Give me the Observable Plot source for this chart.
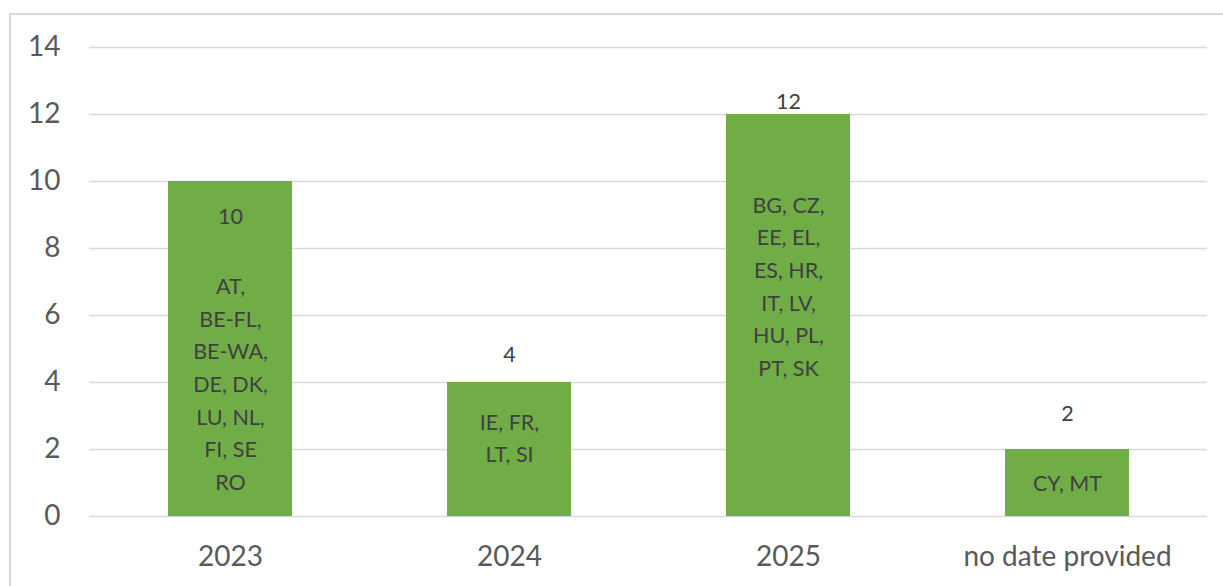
<!DOCTYPE html>
<html>
<head>
<meta charset="utf-8">
<script src="https://cdn.jsdelivr.net/npm/d3@7"></script>
<script src="https://cdn.jsdelivr.net/npm/@observablehq/plot@0.6"></script>
<style>
  html, body { margin: 0; padding: 0; background: #fff; overflow: hidden; }
  #wrap { position: relative; width: 1223px; height: 586px; }
  #frame { position: absolute; left: 9px; top: 13px; width: 1230px; height: 600px;
           border: 2px solid #d9d9d9; box-sizing: border-box; pointer-events: none; }
  svg { position: absolute; left: 0; top: 0; }
</style>
</head>
<body>
<div id="wrap"><div id="frame"></div></div>
<script>
const categories = ["2023", "2024", "2025", "no date provided"];
const values = [10, 4, 12, 2];
const countries = [
  "AT,\nBE-FL,\nBE-WA,\nDE, DK,\nLU, NL,\nFI, SE\nRO",
  "IE, FR,\nLT, SI",
  "BG, CZ,\nEE, EL,\nES, HR,\nIT, LV,\nHU, PL,\nPT, SK",
  "CY, MT"
];
const yTicks = [0, 2, 4, 6, 8, 10, 12, 14];

const rows = categories.map((c, i) => ({cat: c, value: values[i], countries: countries[i]}));

// label nudges (pixels), matching the manual placement in the original chart
const valueDy = [36, -27, -12, -35];
const countryDy = [32.5, -14, -31.5, -2.5];

const font = "Lato, 'Open Sans', sans-serif";

const marks = [
  Plot.gridY(yTicks, {stroke: "#d9d9d9", strokeOpacity: 1, strokeWidth: 1.6}),
  Plot.barY(rows, {x: "cat", y: "value", fill: "#70ad47"}),
  ...rows.map((r, i) => Plot.text([r], {
    x: "cat", y: "value", text: d => String(d.value), dy: valueDy[i],
    fill: "#404040", fontSize: 21.5, fontFamily: font
  })),
  ...rows.map((r, i) => Plot.text([r], {
    x: "cat", y: d => d.value / 2, text: "countries", dy: countryDy[i],
    fill: "#404040", fontSize: 21.5, lineHeight: 1.52, fontFamily: font
  })),
  Plot.axisY(yTicks, {tickSize: 0, tickPadding: 29, fontSize: 28, fill: "#595959", fontFamily: font}),
  Plot.axisX({tickSize: 0, tickPadding: 30, fontSize: 28, fill: "#595959", fontFamily: font})
];

const chart = Plot.plot({
  width: 1223,
  height: 586,
  marginLeft: 89,
  marginRight: 16,
  marginTop: 47,
  marginBottom: 70,
  style: {background: "transparent", fontFamily: font},
  x: {domain: categories, paddingInner: 0.556, paddingOuter: 0.278, label: null},
  y: {domain: [0, 14], label: null},
  marks
});
document.getElementById("wrap").insertBefore(chart, document.getElementById("frame"));
</script>
</body>
</html>
